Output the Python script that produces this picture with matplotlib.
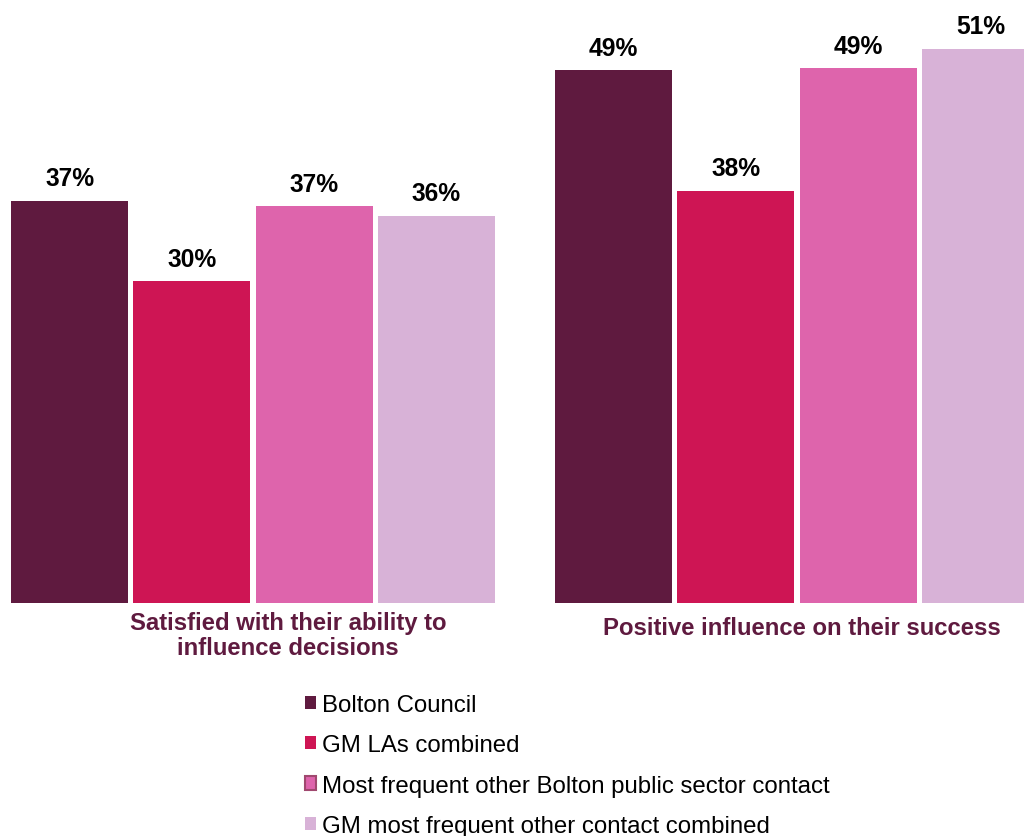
import matplotlib
matplotlib.use("Agg")
import matplotlib.pyplot as plt
from matplotlib.patches import Patch
import numpy as np

categories = ["Satisfied with their ability to\ninfluence decisions",
              "Positive influence on their success"]
series = ["Bolton Council", "GM LAs combined",
          "Most frequent other Bolton public sector contact",
          "GM most frequent other contact combined"]
bolton = [37.0, 49.0]
gm_las = [29.6, 37.9]
bolton_other = [36.5, 49.2]
gm_other = [35.6, 51.0]
values = [bolton, gm_las, bolton_other, gm_other]
labels = [["37%", "49%"], ["30%", "38%"], ["37%", "49%"], ["36%", "51%"]]
colors = ["#5F1A3F", "#CE1554", "#DE64AC", "#D8B2D7"]

plt.rcParams['font.family'] = ['Liberation Sans', 'DejaVu Sans']

W, H = 1024, 837
fig = plt.figure(figsize=(W / 100, H / 100), dpi=100)
bottom_px = 604
ax = fig.add_axes([0, (H - bottom_px) / H, 1, bottom_px / H])

group_px = 544.0
center0 = 253.0
spacing = 122.3 / group_px
width = 117.0 / group_px
x = np.arange(len(categories))

for i, (vals, lab, col) in enumerate(zip(values, labels, colors)):
    pos = x + (i - 1.5) * spacing
    ax.bar(pos, vals, width=width, color=col, edgecolor='none')
    for xp, v, t in zip(pos, vals, lab):
        ax.annotate(t, (xp, v), xytext=(0, 11.3), textcoords='offset points',
                    ha='center', va='baseline', fontsize=17.7, fontweight='bold',
                    color='black')

ax.set_xlim(-center0 / group_px, (W - center0) / group_px)
px_per = 10.87
ax.set_ylim(0, bottom_px / px_per)
ax.axis('off')

cat_centers_px = [288, 802]
cat_tops_px = [612, 617]
for c, cx, cy in zip(categories, cat_centers_px, cat_tops_px):
    fig.text(cx / W, 1 - cy / H, c, ha='center', va='top', fontsize=17.2,
             fontweight='bold', color='#5F1A3F', linespacing=1.12)

handles = [Patch(facecolor=c, edgecolor=('#A0486F' if i == 2 else c),
                 linewidth=1.5 if i == 2 else 0)
           for i, c in enumerate(colors)]
leg = fig.legend(handles, series, loc='upper left',
                 bbox_to_anchor=(305 / W, 1 - 695 / H), frameon=False,
                 fontsize=17.3, handlelength=0.46, handleheight=0.46,
                 handletextpad=0.25, labelspacing=0.76, borderpad=0,
                 borderaxespad=0)

fig.savefig("out.png", dpi=100)
